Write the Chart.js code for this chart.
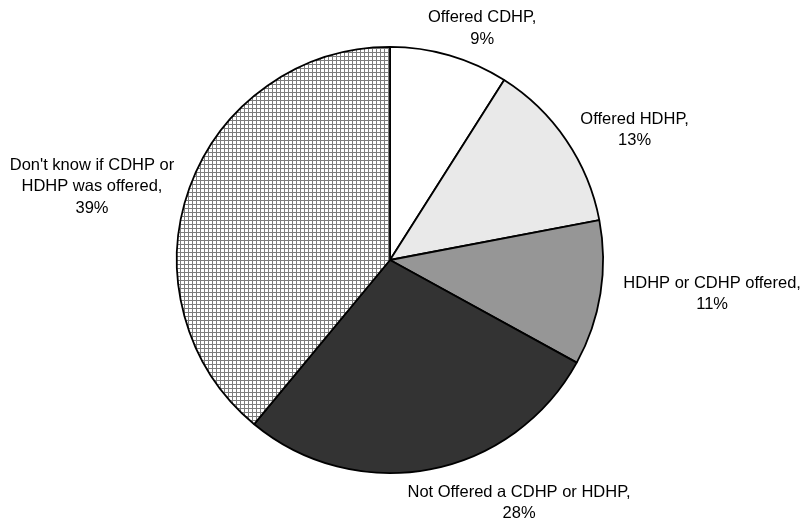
<!DOCTYPE html>
<html>
<head>
<meta charset="utf-8">
<script src="https://cdn.jsdelivr.net/npm/chart.js@4"></script>
<style>
  body { margin: 0; background: #fff; }
  #wrap { width: 805px; height: 525px; }
</style>
</head>
<body>
<div id="wrap"><canvas id="pie" width="805" height="525"></canvas></div>
<script>
'use strict';

// data
const categories = [
  ['Offered CDHP'],
  ['Offered HDHP'],
  ['HDHP or CDHP offered'],
  ['Not Offered a CDHP or HDHP'],
  ["Don't know if CDHP or", 'HDHP was offered'],
];
const shares = [9, 13, 11, 28, 39];

// where each label sits: angle (deg, clockwise from top) and distance in radii
const labelAngle = [21.7, 62, 96, 152, 283.8];
const labelDist = [1.17, 1.3, 1.52, 1.29, 1.44];

// grid hatch for the last slice
function gridPattern() {
  const c = document.createElement('canvas');
  c.width = 4;
  c.height = 4;
  const g = c.getContext('2d');
  g.fillStyle = '#ffffff';
  g.fillRect(0, 0, 4, 4);
  g.fillStyle = '#7c7c7c';
  g.fillRect(0, 0, 4, 1);
  g.fillRect(0, 0, 1, 4);
  return g.createPattern(c, 'repeat');
}

const ctx = document.getElementById('pie');
const fills = ['#ffffff', '#e9e9e9', '#969696', '#333333', gridPattern()];

const outsideLabels = {
  id: 'outsideLabels',
  afterDatasetsDraw(chart) {
    const g = chart.ctx;
    const arcs = chart.getDatasetMeta(0).data;
    g.save();
    g.font = '16.5px "Liberation Sans", Arial, sans-serif';
    g.fillStyle = '#000';
    g.textAlign = 'center';
    g.textBaseline = 'middle';
    arcs.forEach((arc, i) => {
      const lines = categories[i].slice();
      lines[lines.length - 1] += ',';
      lines.push(shares[i] + '%');
      const a = (labelAngle[i] * Math.PI) / 180;
      const d = arc.outerRadius * labelDist[i];
      const cx = arc.x + Math.sin(a) * d;
      const cy = arc.y - Math.cos(a) * d;
      const lh = 21.5;
      const top = cy - ((lines.length - 1) * lh) / 2;
      lines.forEach((t, k) => g.fillText(t, cx, top + k * lh));
    });
    g.restore();
  },
};

new Chart(ctx, {
  type: 'pie',
  data: {
    labels: categories.map((c) => c.join(' ')),
    datasets: [
      {
        data: shares,
        backgroundColor: fills,
        borderColor: '#000',
        borderWidth: 1.8,
        borderAlign: 'center',
      },
    ],
  },
  options: {
    responsive: false,
    animation: false,
    layout: { padding: { left: 176, right: 201, top: 46, bottom: 51 } },
    plugins: {
      legend: { display: false },
      tooltip: { enabled: false },
    },
  },
  plugins: [outsideLabels],
});
</script>
</body>
</html>
